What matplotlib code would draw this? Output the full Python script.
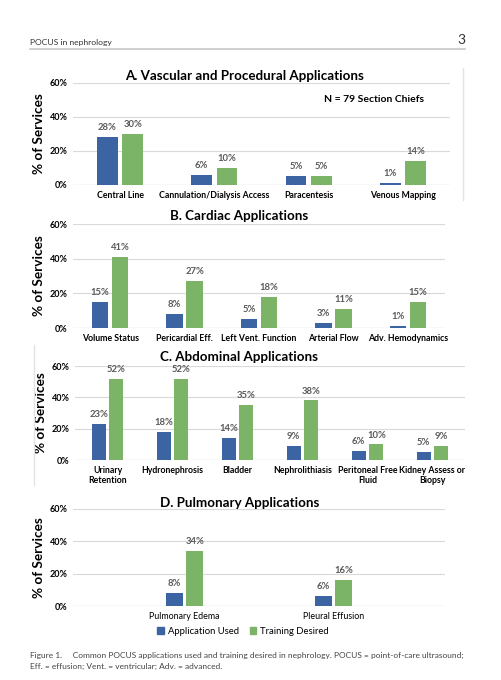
import matplotlib
matplotlib.use('Agg')
import matplotlib.pyplot as plt
import numpy as np

plt.rcParams['font.family'] = ['Lato', 'DejaVu Sans']

# data (percent of services)
cats_a = ['Central Line', 'Cannulation/Dialysis Access', 'Paracentesis', 'Venous Mapping']
used_a = [28, 6, 5, 1]
train_a = [30, 10, 5, 14]

cats_b = ['Volume Status', 'Pericardial Eff.', 'Left Vent. Function', 'Arterial Flow', 'Adv. Hemodynamics']
used_b = [15, 8, 5, 3, 1]
train_b = [41, 27, 18, 11, 15]

cats_c = ['Urinary\nRetention', 'Hydronephrosis', 'Bladder', 'Nephrolithiasis',
          'Peritoneal Free\nFluid', 'Kidney Assess or\nBiopsy']
used_c = [23, 18, 14, 9, 6, 5]
train_c = [52, 52, 35, 38, 10, 9]

cats_d = ['Pulmonary Edema', 'Pleural Effusion']
used_d = [8, 6]
train_d = [34, 16]

yticks = [0, 20, 40, 60]
BLUE = '#3d64a2'
GREEN = '#7bb466'
LBL = '#5a5a5a'

W, H = 502, 680
fig = plt.figure(figsize=(W / 100, H / 100), dpi=100)


def px_axes(x0, x1, ytop, ybot):
    return fig.add_axes([x0 / W, 1 - ybot / H, (x1 - x0) / W, (ybot - ytop) / H])


def panel(ax, cats, used, train, title, ty, tx, slots=None, pos=None):
    n = len(cats) if slots is None else slots
    x = np.arange(len(cats)) if pos is None else np.array(pos)
    w, off = 0.22, 0.135
    ax.bar(x - off, used, w, color=BLUE, zorder=3)
    ax.bar(x + off, train, w, color=GREEN, zorder=3)
    for xi, u, t in zip(x, used, train):
        ax.text(xi - off, u + 3, f'{u}%', ha='center', va='bottom', fontsize=6.8,
                fontweight='bold', color=LBL)
        ax.text(xi + off, t + 3, f'{t}%', ha='center', va='bottom', fontsize=6.8,
                fontweight='bold', color=LBL)
    ax.set_xlim(-0.5, n - 0.5)
    ax.set_ylim(0, 60)
    ax.set_yticks(yticks)
    ax.set_yticklabels([f'{v}%' for v in yticks], fontsize=6.5, fontweight='bold')
    ax.set_xticks(x)
    ax.set_xticklabels(cats, fontsize=6.3, fontweight='bold')
    ax.yaxis.grid(True, color='#d9d9d9', lw=0.8, zorder=0)
    ax.tick_params(length=0, pad=4)
    for s in ax.spines.values():
        s.set_visible(False)
    ax.axhline(0, color='#d9d9d9', lw=0.9, zorder=1)
    ax.set_ylabel('% of Services', fontsize=9.8, fontweight='bold', labelpad=3)
    fig.text(tx / W, 1 - ty / H, title, ha='center', va='center', fontsize=9.6,
             fontweight='bold', color='black')


# header
fig.text(30 / W, 1 - 42 / H, 'POCUS in nephrology', fontsize=6.1, color='#333333', va='center')
fig.text(465 / W, 1 - 40 / H, '3', fontsize=10, color='#333333', va='center', ha='right')
fig.add_artist(plt.Line2D([30 / W, 465 / W], [1 - 49 / H, 1 - 49 / H], color='#c8c8c8', lw=1.2))

ax_a = px_axes(73, 450, 83, 185)
panel(ax_a, cats_a, used_a, train_a, 'A. Vascular and Procedural Applications', 76, 245)
ax_a.text(0.93, 0.84, 'N = 79 Section Chiefs', transform=ax_a.transAxes, ha='right',
          va='center', fontsize=7.5, fontweight='bold')

ax_b = px_axes(73, 445, 224, 328)
panel(ax_b, cats_b, used_b, train_b, 'B. Cardiac Applications', 216, 239)

ax_c = px_axes(75, 465, 366, 460)
panel(ax_c, cats_c, used_c, train_c, 'C. Abdominal Applications', 357, 239)

ax_d = px_axes(73, 445, 509, 606)
panel(ax_d, cats_d, used_d, train_d, 'D. Pulmonary Applications', 503, 240, slots=5, pos=[1, 3])
for lbl in ax_d.get_xticklabels():
    lbl.set_fontweight('normal')
    lbl.set_fontsize(6.4)

# legend
h1 = plt.Rectangle((0, 0), 1, 1, color=BLUE)
h2 = plt.Rectangle((0, 0), 1, 1, color=GREEN)
leg = fig.legend([h1, h2], ['Application Used', 'Training Desired'], loc='center',
                 bbox_to_anchor=(243 / W, 1 - 631 / H), ncol=2, frameon=False,
                 fontsize=6.8, handlelength=0.7, handleheight=0.7, handletextpad=0.4,
                 columnspacing=1.2)

# faint panel borders
fig.add_artist(plt.Line2D([463 / W, 463 / W], [1 - 68 / H, 1 - 200 / H], color='#e3e3e3', lw=1))
fig.add_artist(plt.Line2D([34 / W, 34 / W], [1 - 345 / H, 1 - 485 / H], color='#e3e3e3', lw=1))

# caption
fig.text(30 / W, 1 - 655 / H,
         'Figure 1.     Common POCUS applications used and training desired in nephrology. '
         'POCUS = point-of-care ultrasound;', fontsize=6.05, color='#444444', va='center')
fig.text(30 / W, 1 - 666 / H, 'Eff. = effusion; Vent. = ventricular; Adv. = advanced.',
         fontsize=6.05, color='#444444', va='center')

fig.savefig('out.png', dpi=100)
